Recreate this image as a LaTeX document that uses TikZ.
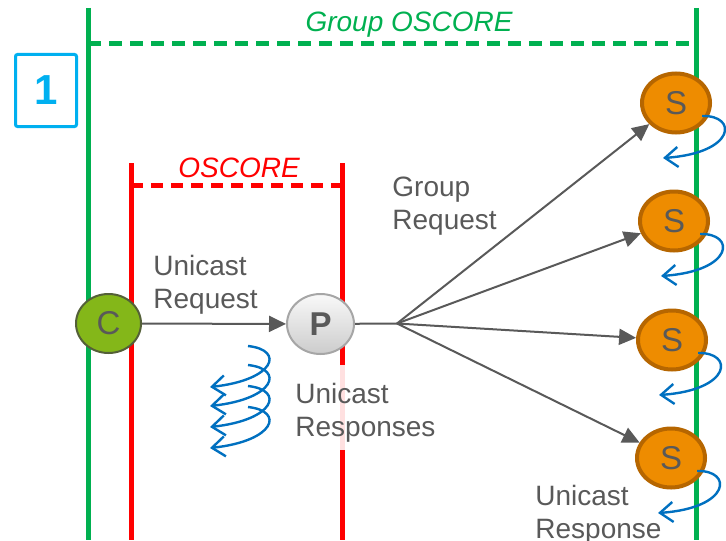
\documentclass[tikz,border=0pt]{standalone}
\usepackage{fontspec}
\setmainfont{Liberation Sans}
\usetikzlibrary{arrows.meta,shapes,positioning,calc}
\definecolor{grpgreen}{RGB}{0,176,80}
\definecolor{oscred}{RGB}{255,0,0}
\definecolor{boxblue}{RGB}{0,176,240}
\definecolor{curlblue}{RGB}{0,112,192}
\definecolor{txtgray}{RGB}{89,89,89}
\definecolor{srvorange}{RGB}{238,140,0}
\definecolor{srvbrown}{RGB}{182,102,0}
\definecolor{cligreen}{RGB}{132,183,25}
\definecolor{cliedge}{RGB}{84,96,56}

\begin{document}
\begin{tikzpicture}[x=0.5pt,y=-0.5pt,
  lbl/.style={text=txtgray,font=\fontsize{14}{16.2}\selectfont,align=left,anchor=north west,inner sep=0pt},
  srv/.style={ellipse,draw=srvbrown,line width=2pt,fill=srvorange,minimum width=34pt,minimum height=29.5pt,inner sep=0pt,text=txtgray,font=\fontsize{16.5}{18}\selectfont},
  req/.style={draw=txtgray,line width=1pt},
  reqarrow/.style={req,-{Triangle[length=8.5pt,width=8pt]}},
  curl/.style={draw=curlblue,line width=1.2pt,-{Straight Barb[length=6.5pt,width=10pt]}},
  grpline/.style={grpgreen,line width=2.5pt},
  oscline/.style={oscred,line width=2.5pt}]
\useasboundingbox (0,0) rectangle (726,540);

\draw[grpline] (88,8) -- (88,540);
\draw[grpline] (696,8) -- (696,540);
\draw[grpline,dash pattern=on 6.5pt off 4pt] (88,44) -- (696,44);
\node[text=grpgreen,font=\itshape\fontsize{14}{16}\selectfont,anchor=north,inner sep=0pt] (grp) at (409,12) {Group OSCORE};

\draw[oscline] (131,163) -- (131,540);
\draw[oscline] (342,163) -- (342,365);
\draw[oscred!12,line width=2.5pt] (342,365) -- (342,450);
\draw[oscline] (342,450) -- (342,540);
\draw[oscline,dash pattern=on 6pt off 4pt] (131,185) -- (342,185);
\node[text=oscred,font=\itshape\fontsize{14}{16}\selectfont,anchor=north,inner sep=0pt] (osc) at (239,158) {OSCORE};

\node[draw=boxblue,line width=1.5pt,rounded corners=1pt,minimum width=30.5pt,minimum height=36pt,text=boxblue,font=\bfseries\fontsize{21}{24}\selectfont] (num) at (46,90.5) {1};

\node[ellipse,draw=cliedge,line width=1pt,fill=cligreen,minimum width=32.5pt,minimum height=29.5pt,inner sep=0pt,text=txtgray,font=\fontsize{16.5}{18}\selectfont] (C) at (108.5,323.5) {C};
\node[ellipse,draw=gray!70,line width=1pt,top color=gray!5,bottom color=gray!40,minimum width=33.5pt,minimum height=30pt,inner sep=0pt,text=txtgray,font=\bfseries\fontsize{16.5}{18}\selectfont] (P) at (320.5,324) {P};
\coordinate (fork) at (397,323.5);

\node[srv] (s1) at (676,103) {S};
\node[srv] (s2) at (674,221) {S};
\node[srv] (s3) at (672,340) {S};
\node[srv] (s4) at (671,458) {S};

\draw[reqarrow] (C) -- (P);
\draw[req] (P) -- (fork);
\foreach \s in {s1,s2,s3,s4}
  \draw[reqarrow] (fork) -- (\s);

\node[lbl] (ureq) at (153,255) {Unicast\\Request};
\node[lbl] (greq) at (392,177) {Group\\Request};
\node[lbl] (ursps) at (295,383) {Unicast\\Responses};
\node[lbl] (ursp) at (535,485) {Unicast\\Response};

\foreach \dy in {0,19,40,61}
  \draw[curl] (248,346+\dy) .. controls (285,350+\dy) and (275,380+\dy) .. (210,387+\dy);

\foreach \s in {s1,s2,s3,s4}
  \draw[curl] ($(\s)+(26,13)$) .. controls ($(\s)+(62,12)$) and ($(\s)+(60,50)$) .. ($(\s)+(-13,55)$);
\end{tikzpicture}
\end{document}
